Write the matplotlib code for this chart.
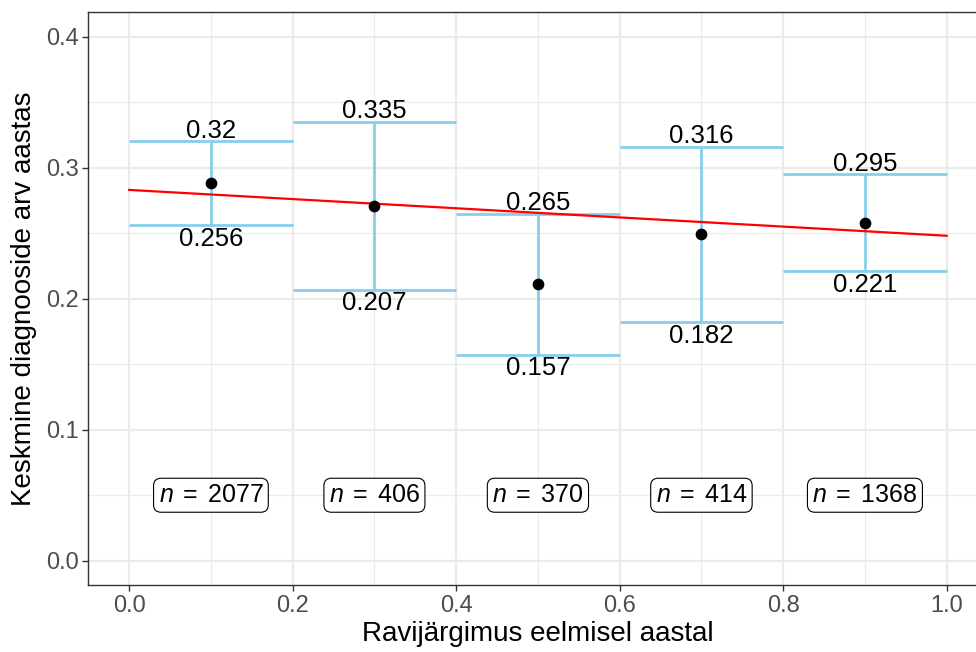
import matplotlib
matplotlib.use("Agg")
import matplotlib.pyplot as plt
from matplotlib.ticker import MultipleLocator

plt.rcParams['font.family'] = ['Liberation Sans', 'DejaVu Sans']
plt.rcParams['mathtext.fontset'] = 'custom'
plt.rcParams['mathtext.rm'] = 'Liberation Sans'
plt.rcParams['mathtext.it'] = 'Liberation Sans:italic'

# Data
x_mid = [0.1, 0.3, 0.5, 0.7, 0.9]
bin_lo = [0.0, 0.2, 0.4, 0.6, 0.8]
bin_hi = [0.2, 0.4, 0.6, 0.8, 1.0]
means = [0.288, 0.271, 0.211, 0.249, 0.258]
upper = [0.32, 0.335, 0.265, 0.316, 0.295]
lower = [0.256, 0.207, 0.157, 0.182, 0.221]
counts = [2077, 406, 370, 414, 1368]
line_x = [0.0, 1.0]
line_y = [0.283, 0.248]
label_y = 0.05

fig = plt.figure(figsize=(9.76, 6.52), dpi=100)
W, H = 976, 652
left_px, right_px = 88.3, 88.3 + 1.1 * 817.5
top_px, bot_px = 11.7, 585.0
ax = fig.add_axes([left_px / W, 1 - bot_px / H, (right_px - left_px) / W, (bot_px - top_px) / H])

ax.set_xlim(-0.05, 1.05)
ax.set_ylim(-0.0185, 0.419)

ax.xaxis.set_minor_locator(MultipleLocator(0.1))
ax.yaxis.set_minor_locator(MultipleLocator(0.05))
ax.set_xticks([0, 0.2, 0.4, 0.6, 0.8, 1.0])
ax.set_xticklabels(['0.0', '0.2', '0.4', '0.6', '0.8', '1.0'])
ax.set_yticks([0, 0.1, 0.2, 0.3, 0.4])
ax.set_yticklabels(['0.0', '0.1', '0.2', '0.3', '0.4'])

ax.grid(which='major', color='#EBEBEB', linewidth=1.6, zorder=0)
ax.grid(which='minor', color='#EBEBEB', linewidth=0.8, zorder=0)
ax.set_axisbelow(True)
for s in ax.spines.values():
    s.set_color('#333333')
    s.set_linewidth(1.0)
ax.tick_params(which='major', length=4, width=1.0, color='#333333', labelcolor='#4D4D4D',
               labelsize=17, pad=3)
ax.tick_params(which='minor', length=0)

blue = '#87CEEB'
ax.hlines(upper, bin_lo, bin_hi, color=blue, linewidth=2, zorder=2)
ax.hlines(lower, bin_lo, bin_hi, color=blue, linewidth=2, zorder=2)
ax.vlines(x_mid, lower, upper, color=blue, linewidth=2, zorder=2)
ax.plot(line_x, line_y, color='red', linewidth=1.6, zorder=3)
ax.scatter(x_mid, means, color='black', s=55, zorder=4)

for xm, u, l in zip(x_mid, upper, lower):
    ax.annotate(f"{u:g}", (xm, u), xytext=(0, -1), textcoords='offset points',
                ha='center', va='bottom', fontsize=18.5, zorder=5)
    ax.annotate(f"{l:g}", (xm, l), xytext=(0, -1), textcoords='offset points',
                ha='center', va='top', fontsize=18.5, zorder=5)

for xm, n in zip(x_mid, counts):
    ax.text(xm, label_y, rf"$n\;=\;\mathrm{{{n}}}$", ha='center', va='center', fontsize=18,
            bbox=dict(boxstyle='round,pad=0.2,rounding_size=0.3', fc='white', ec='black', lw=0.8),
            zorder=5)

ax.set_xlabel('Ravijärgimus eelmisel aastal', fontsize=20, labelpad=3)
ax.set_ylabel('Keskmine diagnooside arv aastas', fontsize=20, labelpad=6)

fig.savefig('out.png', dpi=100)
